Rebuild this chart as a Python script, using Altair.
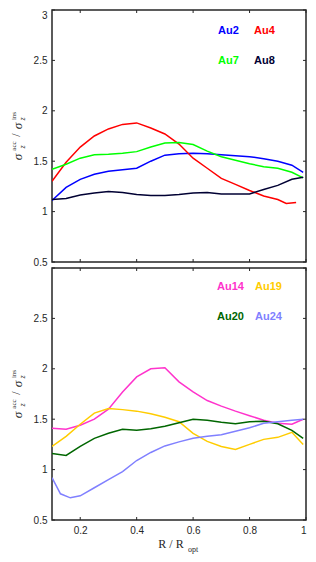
import altair as alt
import pandas as pd

# ---------------- data ----------------
R = [0.10, 0.15, 0.20, 0.25, 0.30, 0.35, 0.40, 0.45, 0.50, 0.55,
     0.60, 0.65, 0.70, 0.75, 0.80, 0.85, 0.90, 0.95, 0.99]

AU2 = [1.11, 1.24, 1.32, 1.37, 1.40, 1.415, 1.43, 1.50, 1.56, 1.575,
       1.58, 1.575, 1.565, 1.555, 1.545, 1.525, 1.50, 1.46, 1.39]
R_AU4 = [0.10, 0.15, 0.20, 0.25, 0.30, 0.35, 0.40, 0.45, 0.50, 0.55,
         0.60, 0.65, 0.70, 0.75, 0.80, 0.85, 0.90, 0.93, 0.965]
AU4 = [1.30, 1.49, 1.64, 1.75, 1.82, 1.865, 1.88, 1.83, 1.77, 1.67,
       1.53, 1.43, 1.33, 1.27, 1.21, 1.155, 1.12, 1.08, 1.09]
AU7 = [1.42, 1.47, 1.53, 1.565, 1.57, 1.58, 1.595, 1.64, 1.68, 1.685,
       1.665, 1.60, 1.545, 1.51, 1.475, 1.445, 1.43, 1.39, 1.335]
AU8 = [1.12, 1.13, 1.165, 1.185, 1.20, 1.19, 1.17, 1.16, 1.16, 1.17,
       1.185, 1.19, 1.175, 1.175, 1.175, 1.22, 1.26, 1.32, 1.34]

AU14 = [1.41, 1.40, 1.44, 1.50, 1.60, 1.77, 1.92, 2.00, 2.01, 1.87,
        1.77, 1.685, 1.63, 1.58, 1.535, 1.49, 1.46, 1.45, 1.50]
AU19 = [1.23, 1.33, 1.45, 1.56, 1.605, 1.595, 1.58, 1.555, 1.52, 1.475,
        1.36, 1.28, 1.23, 1.20, 1.25, 1.30, 1.32, 1.37, 1.25]
AU20 = [1.16, 1.14, 1.23, 1.31, 1.36, 1.40, 1.39, 1.405, 1.43, 1.465,
        1.50, 1.49, 1.47, 1.455, 1.475, 1.48, 1.455, 1.39, 1.31]
R_AU24 = [0.10, 0.13, 0.165, 0.20, 0.25, 0.30, 0.35, 0.40, 0.45, 0.50,
          0.55, 0.60, 0.65, 0.70, 0.75, 0.80, 0.85, 0.90, 0.95, 0.99]
AU24 = [0.92, 0.76, 0.72, 0.74, 0.82, 0.90, 0.98, 1.09, 1.17, 1.235,
        1.275, 1.31, 1.33, 1.345, 1.38, 1.415, 1.46, 1.475, 1.49, 1.50]

TOP_NAMES = ["Au2", "Au4", "Au7", "Au8"]
TOP_COLORS = ["#0000ff", "#ff0000", "#00ff00", "#000033"]
BOT_NAMES = ["Au14", "Au19", "Au20", "Au24"]
BOT_COLORS = ["#ff33cc", "#ffcc00", "#006600", "#8080ff"]

X_TICKS = [0.2, 0.4, 0.6, 0.8, 1.0]
Y_TICKS = [0.5, 1.0, 1.5, 2.0, 2.5, 3.0]
Y_LABELS_TOP = [0.5, 1.0, 1.5, 2.0, 2.5, 3.0]
Y_LABELS_BOTTOM = [0.5, 1.0, 1.5, 2.0, 2.5]


def long_df(series):
    rows = []
    for name, xs_, ys_ in series:
        for x, y in zip(xs_, ys_):
            rows.append({"name": name, "R": x, "v": y})
    return pd.DataFrame(rows)


top_df = long_df([("Au2", R, AU2), ("Au4", R_AU4, AU4),
                  ("Au7", R, AU7), ("Au8", R, AU8)])
bot_df = long_df([("Au14", R, AU14), ("Au19", R, AU19),
                  ("Au20", R, AU20), ("Au24", R_AU24, AU24)])

W, H = 254, 252
AXC = "#262626"
SANS = "Liberation Sans"
SERIF = "Liberation Serif"

xs = alt.Scale(domain=[0.1, 1.0], nice=False, zero=False)
ys = alt.Scale(domain=[0.5, 3.0], nice=False, zero=False)

xt_df = pd.DataFrame({"t": X_TICKS})
yt_df = pd.DataFrame({"t": Y_TICKS})


def panel(df, names, colors, show_x, label_pos, ylabels, flush_top):
    if show_x:
        xaxis = alt.Axis(values=X_TICKS, format="~g", ticks=False,
                         domain=False, grid=False, title=None, labelFont=SANS,
                         labelFontSize=10, labelColor=AXC, labelPadding=5)
    else:
        xaxis = None
    ybase = {"condition": {"test": "datum.value >= 3", "value": "top"},
             "value": "middle"} if flush_top else "middle"
    yaxis = alt.Axis(values=ylabels, format="~g", ticks=False,
                     domain=False, grid=False, title=None, labelFont=SANS,
                     labelFontSize=10, labelColor=AXC, labelPadding=5,
                     labelBaseline=ybase)

    lines = alt.Chart(df).mark_line(strokeWidth=1.5, clip=True).encode(
        x=alt.X("R:Q", scale=xs, axis=xaxis),
        y=alt.Y("v:Q", scale=ys, axis=yaxis),
        color=alt.Color("name:N", scale=alt.Scale(domain=names, range=colors),
                        legend=None),
    )

    tick = dict(color=AXC, strokeWidth=1)
    top_t = alt.Chart(xt_df).mark_rule(**tick).encode(
        x=alt.X("t:Q", scale=xs, axis=xaxis), y=alt.value(0), y2=alt.value(3))
    bot_t = alt.Chart(xt_df).mark_rule(**tick).encode(
        x=alt.X("t:Q", scale=xs, axis=xaxis), y=alt.value(H - 3), y2=alt.value(H))
    left_t = alt.Chart(yt_df).mark_rule(**tick).encode(
        y=alt.Y("t:Q", scale=ys, axis=yaxis), x=alt.value(0), x2=alt.value(3))
    right_t = alt.Chart(yt_df).mark_rule(**tick).encode(
        y=alt.Y("t:Q", scale=ys, axis=yaxis), x=alt.value(W - 3), x2=alt.value(W))

    layers = [lines, top_t, bot_t, left_t, right_t]

    # series labels
    for name, color, (px, py) in zip(names, colors, label_pos):
        layers.append(
            alt.Chart(pd.DataFrame({"a": [0]})).mark_text(
                text=name, color=color, font=SANS, fontSize=11, fontWeight="bold",
                align="left", baseline="middle"
            ).encode(x=alt.value(px), y=alt.value(py))
        )

    # y-axis title: sigma_z^acc / sigma_z^ins
    cy = H / 2.0 + 1
    title_parts = [
        ("σ", SERIF, 13, "italic", -34, cy + 20),
        ("z", SERIF, 8, "italic", -29, cy + 10),
        ("acc", SERIF, 7, "normal", -38.5, cy + 9),
        ("/", SERIF, 12, "normal", -36, cy - 2),
        ("σ", SERIF, 13, "italic", -34, cy - 11),
        ("z", SERIF, 8, "italic", -29, cy - 18),
        ("ins", SERIF, 7, "normal", -38.5, cy - 21),
    ]
    for txt, font, size, style, px, py in title_parts:
        layers.append(
            alt.Chart(pd.DataFrame({"a": [0]})).mark_text(
                text=txt, font=font, fontSize=size, fontStyle=style,
                color=AXC, angle=270, align="center", baseline="middle"
            ).encode(x=alt.value(px), y=alt.value(py))
        )

    if show_x:
        layers.append(
            alt.Chart(pd.DataFrame({"a": [0]})).mark_text(
                text="R / R", font=SERIF, fontSize=12, color=AXC,
                align="center", baseline="middle"
            ).encode(x=alt.value(119), y=alt.value(H + 24))
        )
        layers.append(
            alt.Chart(pd.DataFrame({"a": [0]})).mark_text(
                text="opt", font=SERIF, fontSize=8, color=AXC,
                align="center", baseline="middle"
            ).encode(x=alt.value(141), y=alt.value(H + 30))
        )

    return alt.layer(*layers).properties(width=W, height=H)


top = panel(top_df, TOP_NAMES, TOP_COLORS, False,
            [(166, 21), (202, 21), (166, 51), (202, 51)], Y_LABELS_TOP, True)
bottom = panel(bot_df, BOT_NAMES, BOT_COLORS, True,
               [(165, 19), (203, 19), (165, 49), (203, 49)], Y_LABELS_BOTTOM, False)

chart = alt.vconcat(top, bottom, spacing=6, bounds="flush").resolve_scale(
    color="independent"
).properties(
    padding={"left": 0, "top": 0, "right": 0, "bottom": 0}
).configure_view(stroke=AXC, strokeWidth=1.5)

chart.save("out.html", embed_options={"renderer": "svg", "actions": False})
